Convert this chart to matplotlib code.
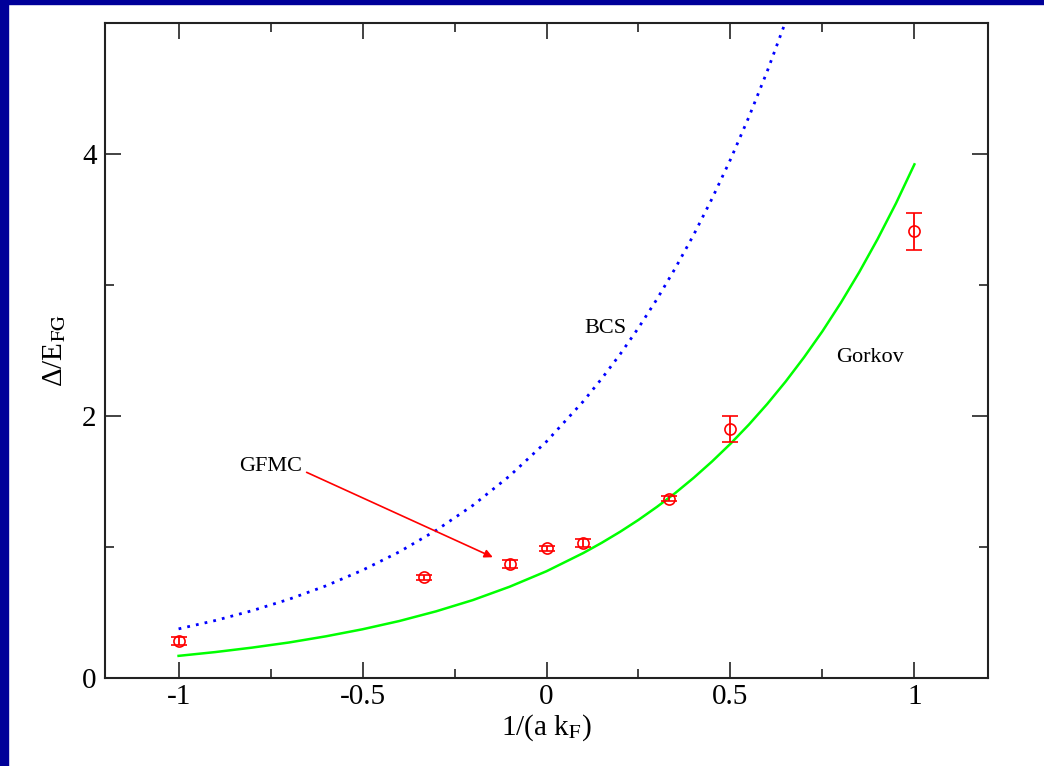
import matplotlib
matplotlib.use("Agg")
import matplotlib.pyplot as plt
from matplotlib.ticker import MultipleLocator, FuncFormatter
from matplotlib.patches import Rectangle

# theory curves
bcs_x = [-1.0, -0.9, -0.8, -0.7, -0.6, -0.5, -0.4, -0.3, -0.2, -0.1,
         0.0, 0.1, 0.15, 0.2, 0.25, 0.3, 0.35, 0.4, 0.45, 0.5, 0.55, 0.6, 0.65]
bcs_y = [0.375, 0.439, 0.514, 0.601, 0.703, 0.823, 0.963, 1.127, 1.318, 1.543,
         1.805, 2.112, 2.285, 2.471, 2.673, 2.891, 3.128, 3.383, 3.660, 3.958,
         4.282, 4.632, 5.011]

gorkov_x = [-1.0, -0.9, -0.8, -0.7, -0.6, -0.5, -0.4, -0.3, -0.2, -0.1,
            0.0, 0.1, 0.15, 0.2, 0.25, 0.3, 0.35, 0.4, 0.45, 0.5, 0.55, 0.6,
            0.65, 0.7, 0.75, 0.8, 0.85, 0.9, 0.95, 1.0]
gorkov_y = [0.169, 0.198, 0.232, 0.271, 0.318, 0.372, 0.435, 0.509, 0.595, 0.697,
            0.815, 0.954, 1.032, 1.116, 1.207, 1.306, 1.412, 1.528, 1.653, 1.788,
            1.934, 2.092, 2.263, 2.448, 2.647, 2.864, 3.098, 3.351, 3.624, 3.921]

# GFMC points
gfmc_x = [-1.0, -1/3, -0.1, 0.0, 0.1, 1/3, 0.5, 1.0]
gfmc_y = [0.28, 0.77, 0.87, 0.99, 1.03, 1.37, 1.90, 3.41]
gfmc_err = [0.03, 0.02, 0.03, 0.02, 0.03, 0.02, 0.10, 0.14]

plt.rcParams['font.family'] = ['Liberation Serif', 'DejaVu Serif']
plt.rcParams['mathtext.fontset'] = 'stix'
plt.rcParams['axes.unicode_minus'] = False

fig = plt.figure(figsize=(10.44, 7.66), dpi=100, facecolor='white')
# navy frame strips (left and top)
fig.patches.append(Rectangle((0, 0), 8 / 1044, 1, transform=fig.transFigure,
                             color='#000099', zorder=0))
fig.patches.append(Rectangle((0, 1 - 4 / 766), 1, 4 / 766, transform=fig.transFigure,
                             color='#000099', zorder=0))

ax = fig.add_axes([105 / 1044, 88 / 766, 883 / 1044, 655 / 766])

ax.plot(bcs_x, bcs_y, color='#0000ff', linestyle=(0, (1, 2.2)), linewidth=2.0)
ax.plot(gorkov_x, gorkov_y, color='#00ff00', linewidth=1.8)
ax.errorbar(gfmc_x, gfmc_y, yerr=gfmc_err, fmt='o', color='red', mfc='none',
            mec='red', markersize=8, capsize=5.5, elinewidth=1.3, capthick=1.3,
            markeredgewidth=1.2)

ax.text(0.159, 2.63, 'BCS', fontsize=16, ha='center', va='baseline')
ax.text(0.878, 2.41, 'Gorkov', fontsize=16, ha='center', va='baseline')
ax.text(-0.751, 1.577, 'GFMC', fontsize=16, ha='center', va='baseline')
ax.annotate('', xy=(-0.146, 0.922), xytext=(-0.652, 1.57),
            arrowprops=dict(arrowstyle='-|>', color='red', lw=1.2,
                            mutation_scale=12, shrinkA=0, shrinkB=0))

ax.set_xlim(-1.2, 1.2)
ax.set_ylim(0, 5)
ax.xaxis.set_major_locator(MultipleLocator(0.5))
ax.xaxis.set_minor_locator(MultipleLocator(0.25))
ax.yaxis.set_major_locator(MultipleLocator(2))
ax.yaxis.set_minor_locator(MultipleLocator(1))
ax.xaxis.set_major_formatter(FuncFormatter(lambda v, p: '%g' % v))
ax.yaxis.set_major_formatter(FuncFormatter(lambda v, p: '%g' % v))

ax.tick_params(which='both', direction='in', top=True, right=True,
               color='#222222', width=1.2, labelsize=21)
ax.tick_params(which='major', length=11.5)
ax.tick_params(which='minor', length=6.5)
ax.tick_params(axis='y', pad=6)
ax.tick_params(axis='x', pad=4)
for s in ax.spines.values():
    s.set_linewidth(1.5)
    s.set_color('#222222')

ax.set_xlabel(r'1/(a k$_\mathrm{F}$)', fontsize=21, labelpad=2)
ax.set_ylabel(r'Δ/E$_\mathrm{FG}$', fontsize=21, labelpad=10)

fig.savefig('out.png', dpi=100, facecolor=fig.get_facecolor())
